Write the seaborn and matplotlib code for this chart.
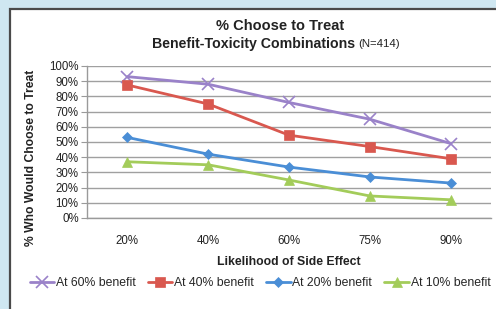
import matplotlib
matplotlib.use("Agg")
import matplotlib.pyplot as plt
import seaborn as sns
import pandas as pd
from matplotlib.patches import Rectangle

categories = ["20%", "40%", "60%", "75%", "90%"]
series_names = ["At 60% benefit", "At 40% benefit", "At 20% benefit", "At 10% benefit"]
benefit_60 = [93, 88, 76, 65, 49]
benefit_40 = [87.5, 75, 54.5, 47, 39]
benefit_20 = [53, 42, 33.5, 27, 23]
benefit_10 = [37, 35, 25, 14.5, 12]
yticks = list(range(0, 101, 10))

rows = []
for name, vals in zip(series_names, [benefit_60, benefit_40, benefit_20, benefit_10]):
    for c, v in zip(categories, vals):
        rows.append({"side": c, "pct": v, "series": name})
df = pd.DataFrame(rows)

sns.set_theme(style="white")
plt.rcParams['font.family'] = ['Liberation Sans', 'DejaVu Sans']

W, H = 496, 309
fig = plt.figure(figsize=(W / 100, H / 100), dpi=100)
fig.patch.set_facecolor("#cfe7f1")

bg = fig.add_axes([0, 0, 1, 1], zorder=-5)
bg.set_xlim(0, W)
bg.set_ylim(H, 0)
bg.axis("off")
bg.add_patch(Rectangle((9.5, 8.5), W, H, facecolor="white",
                       edgecolor="#4a4a4a", linewidth=1.6))

ax = fig.add_axes([87 / W, 1 - 218 / H, 404 / W, 152 / H], zorder=1)
ax.set_facecolor("none")

palette = {"At 60% benefit": "#9a82c9", "At 40% benefit": "#d9584f",
           "At 20% benefit": "#4a8ed6", "At 10% benefit": "#a3cc5a"}
markers = {"At 60% benefit": "x", "At 40% benefit": "s",
           "At 20% benefit": "D", "At 10% benefit": "^"}
sizes = {"At 60% benefit": 8, "At 40% benefit": 7,
         "At 20% benefit": 5.5, "At 10% benefit": 7}

for name in series_names:
    sub = df[df["series"] == name]
    sns.lineplot(data=sub, x="side", y="pct", ax=ax, color=palette[name],
                 marker=markers[name], markersize=sizes[name],
                 markeredgecolor=palette[name], markeredgewidth=1.2 if name == "At 60% benefit" else 0.5,
                 linewidth=2, label=name, sort=False, zorder=3)

ax.set_xlim(-0.5, len(categories) - 0.5)
ax.set_ylim(0, 100)
ax.set_yticks(yticks)
ax.set_yticklabels([f"{t}%" for t in yticks], fontsize=8.3, color="#222222")
ax.set_xticks(range(len(categories)))
ax.set_xticklabels(categories, fontsize=8.3, color="#222222")
ax.tick_params(axis="y", length=4, width=0.8, color="#9a9a9a", pad=2, left=True)
ax.tick_params(axis="x", length=0, pad=12)
ax.yaxis.grid(True, color="#a0a0a0", linewidth=1)
ax.set_axisbelow(True)
for s in ["top", "right"]:
    ax.spines[s].set_visible(False)
ax.spines["left"].set_color("#9a9a9a")
ax.spines["bottom"].set_color("#9a9a9a")
ax.spines["left"].set_linewidth(1)
ax.spines["bottom"].set_linewidth(1)

ax.set_xlabel("")
ax.set_ylabel("")
fig.text(289 / W, 1 - 262 / H, "Likelihood of Side Effect", ha="center", va="center",
         fontsize=8.8, fontweight="bold", color="#222222")
fig.text(31 / W, 1 - 158 / H, "% Who Would Choose to Treat", ha="center", va="center",
         rotation=90, fontsize=8.7, fontweight="bold", color="#222222")

fig.text(280 / W, 1 - 26 / H, "% Choose to Treat", ha="center", va="center",
         fontsize=10.5, fontweight="bold", color="#222222")
fig.text(355 / W, 1 - 44 / H, "Benefit-Toxicity Combinations", ha="right", va="center",
         fontsize=10.2, fontweight="bold", color="#222222")
fig.text(358 / W, 1 - 44 / H, "(N=414)", ha="left", va="center",
         fontsize=8.2, color="#222222")

handles, labels = ax.get_legend_handles_labels()
if ax.legend_:
    ax.legend_.remove()
fig.legend(handles, labels, loc="center", bbox_to_anchor=(260 / W, 1 - 283 / H),
           ncol=4, frameon=False, fontsize=8.8, handlelength=2.0,
           handletextpad=0.15, columnspacing=1.0, borderpad=0)

fig.savefig("out.png", dpi=100, facecolor=fig.get_facecolor())
